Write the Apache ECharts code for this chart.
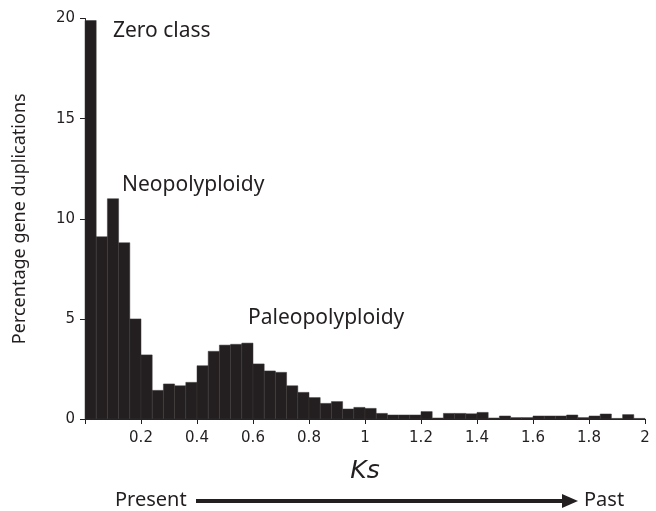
<!DOCTYPE html>
<html>
<head>
<meta charset="utf-8">
<script src="https://cdn.jsdelivr.net/npm/echarts@6/dist/echarts.min.js"></script>
<style>html,body{margin:0;padding:0;background:#fff}#c{width:656px;height:511px}</style>
</head>
<body>
<div id="c"></div>
<script>
// Histogram of Ks values, bin width 0.04 from 0 to 2
var binWidth = 0.04;
var binStarts = [0,0.04,0.08,0.12,0.16,0.2,0.24,0.28,0.32,0.36,0.4,0.44,0.48,0.52,0.56,0.6,0.64,0.68,0.72,0.76,0.8,0.84,0.88,0.92,0.96,1.0,1.04,1.08,1.12,1.16,1.2,1.24,1.28,1.32,1.36,1.4,1.44,1.48,1.52,1.56,1.6,1.64,1.68,1.72,1.76,1.8,1.84,1.88,1.92,1.96];
var percentages = [19.9,9.1,11.0,8.8,5.0,3.2,1.43,1.75,1.66,1.83,2.66,3.38,3.69,3.73,3.79,2.75,2.4,2.33,1.66,1.33,1.07,0.78,0.87,0.5,0.58,0.53,0.28,0.2,0.2,0.2,0.37,0.05,0.28,0.28,0.26,0.33,0.05,0.15,0.07,0.07,0.15,0.15,0.15,0.2,0.07,0.15,0.25,0.03,0.22,0.03];
var xTicks = [0.2,0.4,0.6,0.8,1,1.2,1.4,1.6,1.8,2];
var yTicks = [0,5,10,15,20];

var data = binStarts.map(function(s,i){ return [s, s+binWidth, percentages[i]]; });
var ink = '#231f20';
var chart = echarts.init(document.getElementById('c'));
chart.setOption({
  animation:false,
  grid:{left:85,right:11,top:18.5,bottom:92},
  xAxis:{type:'value',min:0,max:2,interval:0.2,
    axisLine:{show:true,lineStyle:{color:ink,width:1}},
    axisTick:{show:true,length:5,lineStyle:{color:ink}},
    splitLine:{show:false},
    axisLabel:{color:ink,fontFamily:'DejaVu Sans',fontSize:15,margin:12,
      formatter:function(v){ return xTicks.indexOf(Math.round(v*10)/10)>=0 ? String(Math.round(v*10)/10) : ''; }},
    name:'Ks',nameLocation:'middle',nameGap:40,
    nameTextStyle:{color:ink,fontFamily:'DejaVu Sans',fontStyle:'italic',fontSize:25}
  },
  yAxis:{type:'value',min:0,max:20,interval:5,
    axisLine:{show:true,lineStyle:{color:ink,width:1}},
    axisTick:{show:true,length:5,lineStyle:{color:ink}},
    splitLine:{show:false},
    axisLabel:{color:ink,fontFamily:'DejaVu Sans',fontSize:15,margin:10,
      formatter:function(v){ return yTicks.indexOf(v)>=0 ? String(v) : ''; }},
    name:'Percentage gene duplications',nameLocation:'middle',nameGap:56,
    nameTextStyle:{color:ink,fontFamily:'Noto Sans',fontSize:18}
  },
  series:[{
    type:'custom',
    data:data,
    encode:{x:[0,1],y:2},
    renderItem:function(params,api){
      var p0 = api.coord([api.value(0),0]);
      var p1 = api.coord([api.value(1),api.value(2)]);
      return {type:'rect',shape:{x:p0[0],y:p1[1],width:p1[0]-p0[0],height:p0[1]-p1[1]},
        style:{fill:ink,stroke:'#3a3637',lineWidth:0.5}};
    }
  }],
  graphic:[
    {type:'text',x:113,y:31,style:{text:'Zero class',fill:ink,font:'21px "Noto Sans"',verticalAlign:'middle'}},
    {type:'text',x:122,y:185,style:{text:'Neopolyploidy',fill:ink,font:'21px "Noto Sans"',verticalAlign:'middle'}},
    {type:'text',x:248,y:318,style:{text:'Paleopolyploidy',fill:ink,font:'21px "Noto Sans"',verticalAlign:'middle'}},
    {type:'text',x:115,y:500,style:{text:'Present',fill:ink,font:'20px "Noto Sans"',verticalAlign:'middle'}},
    {type:'text',x:584,y:500,style:{text:'Past',fill:ink,font:'20px "Noto Sans"',verticalAlign:'middle'}},
    {type:'line',shape:{x1:196,y1:501,x2:565,y2:501},style:{stroke:ink,lineWidth:4}},
    {type:'polygon',shape:{points:[[562,494],[578,501],[562,508]]},style:{fill:ink}}
  ]
});
</script>
</body>
</html>
